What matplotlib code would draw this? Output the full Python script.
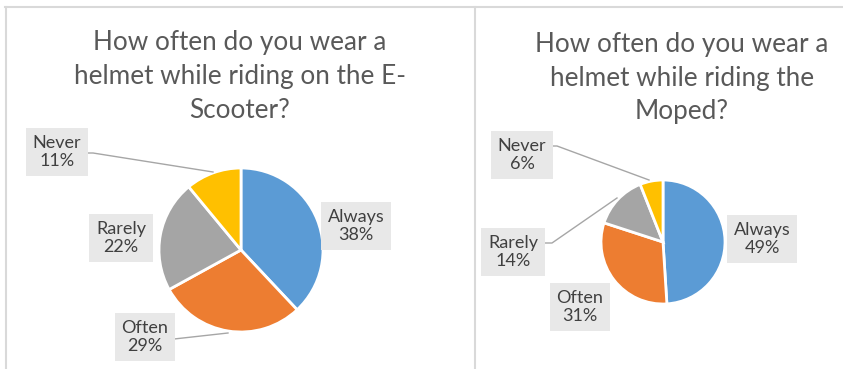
import matplotlib
matplotlib.use("Agg")
import matplotlib.pyplot as plt
from matplotlib.lines import Line2D

categories = ["Always", "Often", "Rarely", "Never"]
scooter_values = [38, 29, 22, 11]
moped_values = [49, 31, 14, 6]
scooter_title = "How often do you wear a\nhelmet while riding on the E-\nScooter?"
moped_title = "How often do you wear a\nhelmet while riding the\nMoped?"
colors = ["#5B9BD5", "#ED7D31", "#A5A5A5", "#FFC000"]

plt.rcParams['font.family'] = ['Lato', 'DejaVu Sans']

W, H = 843, 369
fig = plt.figure(figsize=(W / 100, H / 100), dpi=100)
fig.patch.set_facecolor("white")


def fx(x):
    return x / W


def fy(y):
    return 1 - y / H


def add_pie(values, cx, cy, r):
    ax = fig.add_axes([fx(cx - r), fy(cy + r), 2 * r / W, 2 * r / H])
    ax.pie(values, colors=colors, startangle=90, counterclock=False,
           radius=1.0, wedgeprops=dict(edgecolor="white", linewidth=2))
    ax.set_xlim(-1, 1)
    ax.set_ylim(-1, 1)
    ax.set_aspect("auto")
    ax.axis("off")
    return ax


def add_title(text, cx, baselines):
    for line, b in zip(text.split("\n"), baselines):
        fig.text(fx(cx), fy(b), line, ha="center", va="baseline",
                 fontsize=18.8, color="#595959")


def add_label(cat, val, cx, cy):
    fig.text(fx(cx), fy(cy), f"{cat}\n{val}%", ha="center", va="center",
             fontsize=13, color="#404040", linespacing=1.15,
             bbox=dict(boxstyle="square,pad=0.38", facecolor="#E8E8E8",
                       edgecolor="none"))


def add_leader(pts):
    xs = [fx(p[0]) for p in pts]
    ys = [fy(p[1]) for p in pts]
    fig.add_artist(Line2D(xs, ys, color="#A6A6A6", linewidth=1.0,
                          transform=fig.transFigure))


border = "#D9D9D9"
fig.add_artist(Line2D([fx(5), fx(843)], [fy(7), fy(7)], color=border,
                      linewidth=1.5, transform=fig.transFigure))
fig.add_artist(Line2D([fx(6), fx(6)], [fy(7), fy(369)], color=border,
                      linewidth=1.5, transform=fig.transFigure))
fig.add_artist(Line2D([fx(475), fx(475)], [fy(7), fy(369)], color=border,
                      linewidth=1.5, transform=fig.transFigure))

# Left chart
add_title(scooter_title, 240, [50, 84, 118])
add_pie(scooter_values, 241, 250, 82)
left_label_pos = [(356, 226), (145, 337), (121, 238), (57, 152)]
for c, v, p in zip(categories, scooter_values, left_label_pos):
    add_label(c, v, *p)
add_leader([(86, 153), (93, 153), (213, 172)])
add_leader([(174, 339), (183, 338), (228, 333)])

# Right chart
add_title(moped_title, 682, [52, 86, 119])
add_pie(moped_values, 663, 242, 62)
right_label_pos = [(762, 239), (580, 307), (513, 252), (522, 155)]
for c, v, p in zip(categories, moped_values, right_label_pos):
    add_label(c, v, *p)
add_leader([(552, 146), (557, 146), (649, 180)])
add_leader([(544, 243), (552, 243), (617, 198)])

fig.savefig("out.png", dpi=100, facecolor="white")
